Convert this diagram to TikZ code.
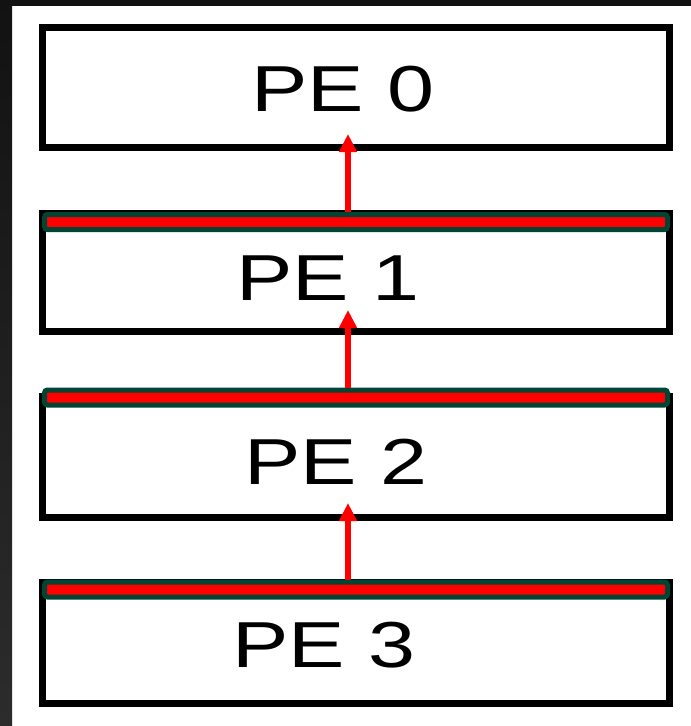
\documentclass[tikz,border=0pt]{standalone}
\usepackage{fontspec}
\setmainfont{Liberation Sans}
\usetikzlibrary{arrows.meta}
\definecolor{peGreen}{RGB}{0,68,51}
\definecolor{peRed}{RGB}{255,0,0}
\definecolor{edgeTop}{RGB}{18,18,18}
\definecolor{edgeBot}{RGB}{44,44,44}
\tikzset{
  pebox/.style={draw=black, line width=7pt, fill=white, minimum width=627.5pt, inner sep=0pt, outer sep=0pt},
  pebar/.style={draw=peGreen, fill=peRed, line width=5pt, rounded corners=3pt, minimum width=623pt, minimum height=15pt, inner sep=0pt, outer sep=2.5pt},
  pelabel/.style={font=\fontsize{65}{70}\selectfont, xscale=1.3, inner sep=0pt},
  pearrow/.style={draw=peRed, line width=6pt, -{Triangle[length=18pt,width=17pt]}}
}
\begin{document}
\begin{tikzpicture}[x=1pt,y=-1pt]
\useasboundingbox (0,0) rectangle (691,726);
\fill[white] (0,0) rectangle (691,726);
\shade[top color=edgeTop, bottom color=edgeBot] (0,0) rectangle (12,726);
\fill[edgeTop] (0,0) rectangle (691,6);
% boxes
\node[pebox, minimum height=120.5pt] (b0) at (356,87.25) {};
\node[pebox, minimum height=118pt] (b1) at (356,272) {};
\node[pebox, minimum height=121pt] (b2) at (356,456.5) {};
\node[pebox, minimum height=121pt] (b3) at (356,642.5) {};
% bars
\node[pebar] (r1) at (356,222) {};
\node[pebar] (r2) at (356,397.5) {};
\node[pebar] (r3) at (356,589.5) {};
% labels
\node[pelabel] (t0) at (343,89.5) {PE 0};
\node[pelabel] (t1) at (328,278) {PE 1};
\node[pelabel] (t2) at (336,462) {PE 2};
\node[pelabel] (t3) at (324,645) {PE 3};
% arrows
\coordinate (ax) at (348,0);
\draw[pearrow] (r1.north -| ax) -- ([yshift=13.5pt]b0.south -| ax);
\draw[pearrow] (r2.north -| ax) -- ([yshift=21pt]b1.south -| ax);
\draw[pearrow] (r3.north -| ax) -- ([yshift=14pt]b2.south -| ax);
\end{tikzpicture}
\end{document}
